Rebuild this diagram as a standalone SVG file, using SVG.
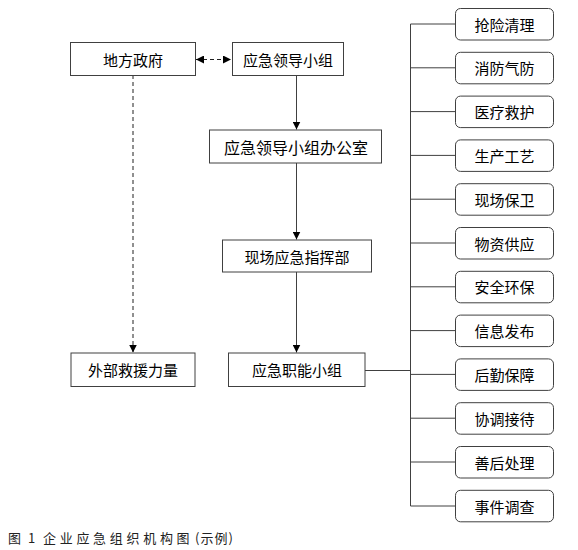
<svg xmlns="http://www.w3.org/2000/svg" width="578" height="550" viewBox="0 0 578 550">
<style>
.box{fill:#fff;stroke:#404040;stroke-width:1}
.rbox{fill:#fff;stroke:#404040;stroke-width:1}
.t{font-family:"Noto Sans CJK SC","Liberation Sans",sans-serif;font-size:15px;fill:#000;text-anchor:middle;dominant-baseline:central}
.ln{fill:none;stroke:#404040;stroke-width:1}
.dl{fill:none;stroke:#202020;stroke-width:1;stroke-dasharray:4,3}
.cap{font-family:"Noto Sans CJK SC","Liberation Serif",serif;font-size:13px;fill:#222}
</style>
<defs>
<marker id="ah" viewBox="0 0 10 10" refX="10" refY="5" markerWidth="8" markerHeight="8" markerUnits="userSpaceOnUse" orient="auto-start-reverse">
<path d="M0,0 L10,5 L0,10 Z" fill="#000"/>
</marker>
</defs>
<g id="connectors">
<path class="dl" d="M196,59.5 H231" marker-start="url(#ah)" marker-end="url(#ah)"/>
<path class="dl" d="M133,75 V352.5" marker-end="url(#ah)"/>
<path class="ln" d="M296.5,75 V129.5" marker-end="url(#ah)"/>
<path class="ln" d="M296.5,163 V239.5" marker-end="url(#ah)"/>
<path class="ln" d="M296.5,272 V352.5" marker-end="url(#ah)"/>
<path class="ln" d="M365,370.5 H410.5"/>
<path class="ln" d="M410.5,24 V506"/>
<path class="ln" d="M410.5,24 H455 M410.5,67.8 H455 M410.5,111.6 H455 M410.5,155.4 H455 M410.5,199.2 H455 M410.5,243 H455 M410.5,286.8 H455 M410.5,330.6 H455 M410.5,374.4 H455 M410.5,418.2 H455 M410.5,462 H455 M410.5,506 H455"/>
</g>
<g id="n-difang"><rect class="box" x="70.5" y="42.5" width="125" height="33"/><text class="t" x="133" y="59">地方政府</text></g>
<g id="n-lingdao"><rect class="box" x="232.5" y="42.5" width="111" height="33"/><text class="t" x="288" y="59">应急领导小组</text></g>
<g id="n-bangong"><rect class="box" x="209.5" y="130" width="172" height="33"/><text class="t" x="296" y="146.5" style="font-size:16px">应急领导小组办公室</text></g>
<g id="n-xianchang"><rect class="box" x="222.5" y="240" width="149" height="32"/><text class="t" x="297" y="256">现场应急指挥部</text></g>
<g id="n-waibu"><rect class="box" x="71" y="353" width="124" height="33.5"/><text class="t" x="133" y="369.5">外部救援力量</text></g>
<g id="n-zhineng"><rect class="box" x="228.5" y="353" width="136.5" height="33.5"/><text class="t" x="297" y="369.5">应急职能小组</text></g>
<g id="n-r1"><rect class="rbox" x="455.5" y="8.5" width="98" height="31.5" rx="5"/><text class="t" x="504.5" y="24">抢险清理</text></g>
<g id="n-r2"><rect class="rbox" x="455.5" y="52.3" width="98" height="31.5" rx="5"/><text class="t" x="504.5" y="67.8">消防气防</text></g>
<g id="n-r3"><rect class="rbox" x="455.5" y="96.1" width="98" height="31.5" rx="5"/><text class="t" x="504.5" y="111.6">医疗救护</text></g>
<g id="n-r4"><rect class="rbox" x="455.5" y="139.9" width="98" height="31.5" rx="5"/><text class="t" x="504.5" y="155.4">生产工艺</text></g>
<g id="n-r5"><rect class="rbox" x="455.5" y="183.7" width="98" height="31.5" rx="5"/><text class="t" x="504.5" y="199.2">现场保卫</text></g>
<g id="n-r6"><rect class="rbox" x="455.5" y="227.5" width="98" height="31.5" rx="5"/><text class="t" x="504.5" y="243">物资供应</text></g>
<g id="n-r7"><rect class="rbox" x="455.5" y="271.3" width="98" height="31.5" rx="5"/><text class="t" x="504.5" y="286.8">安全环保</text></g>
<g id="n-r8"><rect class="rbox" x="455.5" y="315.1" width="98" height="31.5" rx="5"/><text class="t" x="504.5" y="330.6">信息发布</text></g>
<g id="n-r9"><rect class="rbox" x="455.5" y="358.9" width="98" height="31.5" rx="5"/><text class="t" x="504.5" y="374.4">后勤保障</text></g>
<g id="n-r10"><rect class="rbox" x="455.5" y="402.7" width="98" height="31.5" rx="5"/><text class="t" x="504.5" y="418.2">协调接待</text></g>
<g id="n-r11"><rect class="rbox" x="455.5" y="446.5" width="98" height="31.5" rx="5"/><text class="t" x="504.5" y="462">善后处理</text></g>
<g id="n-r12"><rect class="rbox" x="455.5" y="490.3" width="98" height="31.5" rx="5"/><text class="t" x="504.5" y="506">事件调查</text></g>
<text class="cap" y="542.5"><tspan x="8">图</tspan><tspan x="28">1</tspan><tspan x="43" letter-spacing="3.7">企业应急组织机构图</tspan><tspan x="195" letter-spacing="1">(示例)</tspan></text>
</svg>
